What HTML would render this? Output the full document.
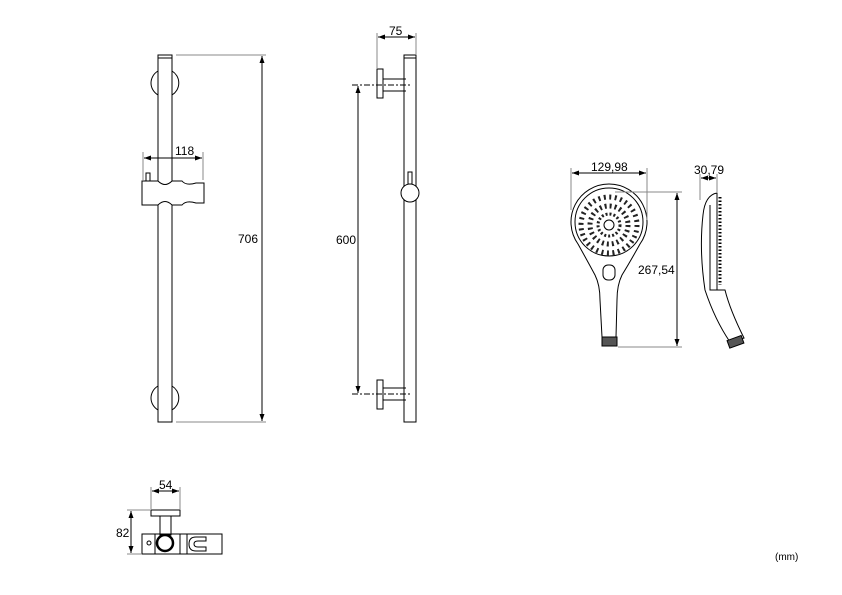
<!DOCTYPE html>
<html><head><style>body{margin:0;background:#fff}svg{display:block}text{font-family:"Liberation Sans",sans-serif;font-size:12px;fill:#000}</style></head><body>
<svg width="842" height="595" viewBox="0 0 842 595" xmlns="http://www.w3.org/2000/svg">
<defs><marker id="a" markerWidth="7" markerHeight="5" refX="7" refY="2.5" orient="auto-start-reverse" markerUnits="userSpaceOnUse"><path d="M0,0 L7,2.5 L0,5z" fill="#000"/></marker></defs>
<g fill="none" stroke="#000" stroke-width="1">
<path d="M151,83 a14,14 0 0 1 7,-12 M172,71 a14,14 0 0 1 0,24 M158,95 a14,14 0 0 1 -7,-12"/>
<path d="M151,398 a14,14 0 0 1 7,-12 M172,386 a14,14 0 0 1 0,24 M158,410 a14,14 0 0 1 -7,-12"/>
<rect x="158" y="55" width="14" height="367"/>
<line x1="158" y1="58" x2="172" y2="58"/>
<rect x="146" y="173" width="4" height="8"/>
<path d="M142,181 H158 Q165,188 172,181 H182 Q186,186 196,183 H204 V203 H196 Q186,200 182,205 H172 Q165,198 158,205 H142 Z" fill="#fff"/>
<line x1="176" y1="55" x2="266" y2="55" stroke="#888"/>
<line x1="176" y1="422" x2="266" y2="422" stroke="#888"/>
<line x1="262" y1="56" x2="262" y2="421" marker-start="url(#a)" marker-end="url(#a)"/>
<line x1="143" y1="152" x2="143" y2="180" stroke="#888"/><line x1="203" y1="152" x2="203" y2="180" stroke="#888"/>
<line x1="144" y1="158" x2="202" y2="158" marker-start="url(#a)" marker-end="url(#a)"/>
<rect x="404" y="55" width="12" height="367"/>
<line x1="404" y1="58" x2="416" y2="58"/>
<rect x="377" y="69" width="6" height="29"/>
<path d="M383,79 H406 M383,91 H406"/>
<rect x="377" y="380" width="6" height="29"/>
<path d="M383,388 H406 M383,400 H406"/>
<line x1="352" y1="85" x2="410" y2="85" stroke-dasharray="6,2,2,2"/>
<line x1="352" y1="394" x2="410" y2="394" stroke-dasharray="6,2,2,2"/>
<rect x="408" y="172" width="4" height="12"/>
<circle cx="410" cy="193" r="9" fill="#fff"/>
<line x1="358" y1="86" x2="358" y2="393" marker-start="url(#a)" marker-end="url(#a)"/>
<line x1="377" y1="33" x2="377" y2="68" stroke="#888"/><line x1="416" y1="33" x2="416" y2="54" stroke="#888"/>
<line x1="378" y1="37" x2="415" y2="37" marker-start="url(#a)" marker-end="url(#a)"/>
<path d="M609,184 A38,38 0 0 1 640,244 Q630,262 622,275 Q617,285 617,300 L616,337 H602 L600,300 Q600,285 595,275 Q588,262 578,244 A38,38 0 0 1 609,184 Z"/>
<circle cx="609" cy="222" r="34"/>
<rect x="603" y="265" width="12" height="15" rx="5"/>
<rect x="602" y="337" width="15" height="9" fill="#555"/>
<circle cx="609" cy="225" r="28" stroke="#222" stroke-width="5" stroke-dasharray="2,3.5"/>
<circle cx="609" cy="225" r="19" stroke="#222" stroke-width="5" stroke-dasharray="2,3"/>
<circle cx="609" cy="225" r="11" stroke="#222" stroke-width="3" stroke-dasharray="2,2"/>
<circle cx="609" cy="225" r="5" fill="#fff"/>
<line x1="571" y1="168" x2="571" y2="210" stroke="#888"/><line x1="647" y1="168" x2="647" y2="220" stroke="#888"/>
<line x1="572" y1="173" x2="646" y2="173" marker-start="url(#a)" marker-end="url(#a)"/>
<line x1="615" y1="192" x2="682" y2="192" stroke="#888"/><line x1="618" y1="347" x2="682" y2="347" stroke="#888"/>
<line x1="677" y1="193" x2="677" y2="346" marker-start="url(#a)" marker-end="url(#a)"/>
<path d="M717,193 Q705,195 703,215 Q699,250 705,290 Q715,320 730,342 L744,338 Q730,310 725,290 L717,290 Z"/>
<path d="M717,195 L717,290 M710,205 L710,290 L725,290"/>
<line x1="720" y1="197" x2="720" y2="285" stroke-width="3" stroke-dasharray="1.5,2"/>
<rect x="728" y="338" width="15" height="8" transform="rotate(-20 735 342)" fill="#555"/>
<line x1="700" y1="174" x2="700" y2="200" stroke="#888"/><line x1="717" y1="174" x2="717" y2="193" stroke="#888"/>
<line x1="701" y1="178" x2="716" y2="178" marker-start="url(#a)" marker-end="url(#a)"/>
<rect x="151" y="510" width="29" height="6"/>
<rect x="160" y="516" width="11" height="19"/>
<rect x="142" y="534" width="80" height="20"/>
<line x1="155" y1="534" x2="155" y2="554"/><line x1="180" y1="534" x2="180" y2="554"/><line x1="187" y1="534" x2="187" y2="554"/>
<circle cx="165" cy="543" r="8" stroke-width="2.5"/>
<circle cx="149" cy="543" r="2"/>
<path d="M206,537 H196 Q189,537 189,544 Q189,551 196,551 H206 V547 H198 Q194,547 194,544 Q194,541 198,541 H206 Z"/>
<line x1="151" y1="487" x2="151" y2="509" stroke="#888"/><line x1="180" y1="487" x2="180" y2="509" stroke="#888"/>
<line x1="152" y1="491" x2="179" y2="491" marker-start="url(#a)" marker-end="url(#a)"/>
<line x1="127" y1="510" x2="150" y2="510" stroke="#888"/><line x1="127" y1="554" x2="141" y2="554" stroke="#888"/>
<line x1="131" y1="511" x2="131" y2="553" marker-start="url(#a)" marker-end="url(#a)"/>
</g>
<g>
<text x="175" y="155">118</text>
<text x="238" y="243">706</text>
<text x="336" y="244">600</text>
<text x="389" y="35">75</text>
<text x="591" y="171">129,98</text>
<text x="638" y="274">267,54</text>
<text x="694" y="174">30,79</text>
<text x="159" y="489">54</text>
<text x="116" y="537">82</text>
<text x="775" y="560" style="font-size:10px">(mm)</text>
</g>
</svg>
</body></html>
